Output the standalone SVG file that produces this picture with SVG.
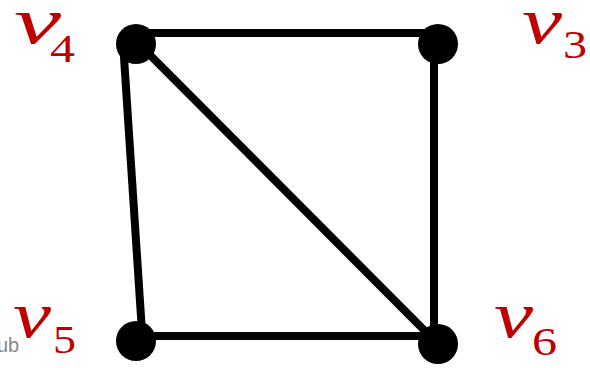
<svg xmlns="http://www.w3.org/2000/svg" width="590" height="368" viewBox="0 0 590 368">
<style>
.e{stroke:#000;stroke-width:8;fill:none;stroke-linecap:round}
.n{fill:#000}
.v{font-family:"Liberation Serif",serif;font-style:italic;font-size:66px;fill:#c00000}
.s{font-family:"Liberation Serif",serif;font-size:40px;fill:#c00000}
.g{font-family:"Liberation Sans",sans-serif;font-size:20px;fill:#888}
</style>
<rect width="590" height="368" fill="#fff"/>
<g id="edges">
<line class="e" x1="137" y1="33" x2="436" y2="33"/>
<line class="e" x1="434" y1="40" x2="434" y2="340"/>
<line class="e" x1="137" y1="336" x2="434" y2="336"/>
<line class="e" x1="123" y1="42" x2="142" y2="332"/>
<line class="e" x1="140" y1="45" x2="432" y2="338"/>
</g>
<g id="v4"><circle class="n" cx="136" cy="44" r="20"/><text class="v" x="14" y="43" textLength="47" lengthAdjust="spacingAndGlyphs">v</text><text class="s" x="50" y="62" textLength="25" lengthAdjust="spacingAndGlyphs">4</text></g>
<g id="v3"><circle class="n" cx="438" cy="44" r="20"/><text class="v" x="522" y="43" textLength="40" lengthAdjust="spacingAndGlyphs">v</text><text class="s" x="563" y="58" textLength="24" lengthAdjust="spacingAndGlyphs">3</text></g>
<g id="v5"><circle class="n" cx="136" cy="341" r="20"/><text class="g" x="-3" y="352">ub</text><text class="v" x="13" y="337" textLength="38" lengthAdjust="spacingAndGlyphs">v</text><text class="s" x="53" y="353" textLength="23" lengthAdjust="spacingAndGlyphs">5</text></g>
<g id="v6"><circle class="n" cx="438" cy="344" r="20"/><text class="v" x="494" y="337" textLength="39" lengthAdjust="spacingAndGlyphs">v</text><text class="s" x="532" y="355" textLength="25" lengthAdjust="spacingAndGlyphs">6</text></g>
</svg>
